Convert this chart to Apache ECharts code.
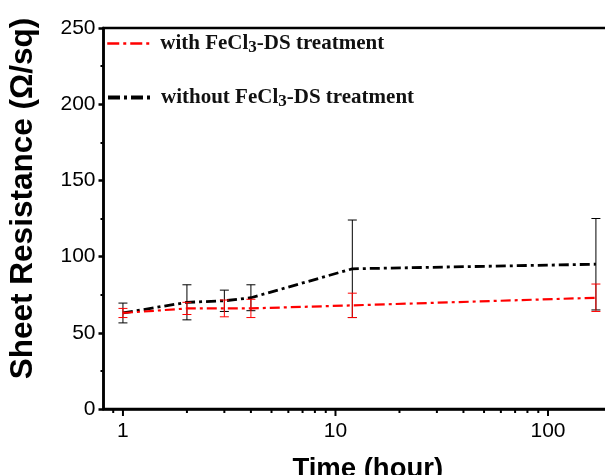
<!DOCTYPE html>
<html><head><meta charset="utf-8">
<script src="https://cdn.jsdelivr.net/npm/echarts@6/dist/echarts.min.js"></script>
<style>html,body{margin:0;padding:0;background:#fff}#c{width:605px;height:475px}</style>
</head><body><div id="c"></div>
<script>
const times = [1, 2, 3, 4, 12, 168];
const withValues = [63, 66, 66, 66, 68, 73];
const withErrors = [3, 4, 5.5, 6, 8, 9];
const withoutValues = [63, 70, 71, 73, 92, 95];
const withoutErrors = [6.5, 11.5, 7, 8.5, 32, 30];
const seriesNames = ['with FeCl3-DS treatment', 'without FeCl3-DS treatment'];
const xMajorTicks = [1, 10, 100];
const xMinorTicks = [0.9, 2, 3, 4, 5, 6, 7, 8, 9, 20, 30, 40, 50, 60, 70, 80, 90];

const chart = echarts.init(document.getElementById('c'));

function errData(vals, errs) {
  return times.map((t, i) => [t, vals[i] - errs[i], vals[i] + errs[i]]);
}
function errRender(color) {
  return function (params, api) {
    const x = api.value(0);
    const lo = api.coord([x, api.value(1)]);
    const hi = api.coord([x, api.value(2)]);
    const w = 4.5;
    const st = { stroke: color, lineWidth: 1 };
    return { type: 'group', children: [
      { type: 'line', shape: { x1: lo[0], y1: lo[1], x2: hi[0], y2: hi[1] }, style: st },
      { type: 'line', shape: { x1: lo[0] - w, y1: lo[1], x2: lo[0] + w, y2: lo[1] }, style: st },
      { type: 'line', shape: { x1: hi[0] - w, y1: hi[1], x2: hi[0] + w, y2: hi[1] }, style: st }
    ]};
  };
}
function tickRender(len) {
  return function (params, api) {
    const p = api.coord([api.value(0), 0]);
    return { type: 'line', shape: { x1: p[0], y1: p[1], x2: p[0], y2: p[1] + len },
      style: { stroke: '#000', lineWidth: 2 } };
  };
}

const legendText = {
  fontFamily: 'Liberation Serif', fontWeight: 'bold', fontSize: 21, color: '#111',
  padding: [0, 0, 0, 4],
  rich: {
    n: { fontFamily: 'Liberation Serif', fontWeight: 'bold', fontSize: 21, color: '#111' },
    s: { fontFamily: 'Liberation Serif', fontWeight: 'bold', fontSize: 17, color: '#111', padding: [9, 0, 0, 0] }
  }
};
const legendFormatter = name => '{n|' + name.replace('FeCl3-', 'FeCl}{s|3}{n|-') + '}';

chart.setOption({
  animation: false,
  backgroundColor: '#fff',
  grid: { left: 103.5, top: 28, bottom: 66, right: -7, outerBoundsMode: 'none', show: true, borderColor: '#000', borderWidth: 2.5 },
  legend: [
    { data: [seriesNames[0]], left: 106, top: 33, padding: 0, itemWidth: 44, itemHeight: 14, formatter: legendFormatter, textStyle: legendText, itemStyle: { opacity: 0 },
      lineStyle: { width: 2.5, type: [12, 4, 3, 4] } },
    { data: [seriesNames[1]], left: 106, top: 87, padding: 0, itemWidth: 44, itemHeight: 14, formatter: legendFormatter, textStyle: legendText, itemStyle: { opacity: 0 },
      lineStyle: { width: 4, type: [12, 4, 3, 4] } }
  ],
  xAxis: {
    type: 'log', logBase: 10, min: 0.81, max: 200,
    name: 'Time (hour)', nameLocation: 'middle', nameGap: 46,
    nameTextStyle: { fontFamily: 'Liberation Sans', fontWeight: 'bold', fontSize: 27.5, color: '#000', padding: [0, 0, 0, 20] },
    axisLine: { lineStyle: { color: '#000', width: 2.5 } },
    axisTick: { show: false },
    minorTick: { show: false },
    splitLine: { show: false },
    axisLabel: {
      margin: 12, fontFamily: 'Liberation Sans', fontSize: 21, color: '#000',
      formatter: v => { const l = Math.log10(v); return Math.abs(l - Math.round(l)) < 1e-6 ? String(Math.round(v)) : ''; }
    }
  },
  yAxis: {
    type: 'value', min: 0, max: 250, interval: 50,
    name: 'Sheet Resistance (Ω/sq)', nameLocation: 'middle', nameGap: 64,
    nameTextStyle: { fontFamily: 'Liberation Sans', fontWeight: 'bold', fontSize: 31.5, color: '#000', padding: [0, 0, 0, 40] },
    axisLine: { show: true, lineStyle: { color: '#000', width: 2.5 } },
    axisTick: { show: true, inside: false, length: 5, lineStyle: { width: 2.5 } },
    minorTick: { show: true, splitNumber: 2, length: 3, lineStyle: { color: '#000', width: 2 } },
    splitLine: { show: false },
    axisLabel: { margin: 8, fontFamily: 'Liberation Sans', fontSize: 21, color: '#000' }
  },
  series: [
    { name: seriesNames[0], type: 'line', data: times.map((t, i) => [t, withValues[i]]), symbol: 'none', z: 4,
      lineStyle: { color: '#ff0000', width: 2.2, type: [10, 4, 3, 4] }, itemStyle: { color: '#ff0000' } },
    { name: seriesNames[1], type: 'line', data: times.map((t, i) => [t, withoutValues[i]]), symbol: 'none', z: 3,
      lineStyle: { color: '#000', width: 2.8, type: [10, 4, 3, 4] }, itemStyle: { color: '#000' } },
    { type: 'custom', data: errData(withoutValues, withoutErrors), renderItem: errRender('#000'), encode: { x: 0, y: [1, 2] }, z: 2, silent: true },
    { type: 'custom', data: errData(withValues, withErrors), renderItem: errRender('#ff0000'), encode: { x: 0, y: [1, 2] }, z: 5, silent: true },
    { type: 'custom', data: xMajorTicks.map(t => [t, 0]), renderItem: tickRender(7), encode: { x: 0, y: 1 }, silent: true, clip: false },
    { type: 'custom', data: xMinorTicks.map(t => [t, 0]), renderItem: tickRender(4), encode: { x: 0, y: 1 }, silent: true, clip: false }
  ]
});
</script></body></html>
